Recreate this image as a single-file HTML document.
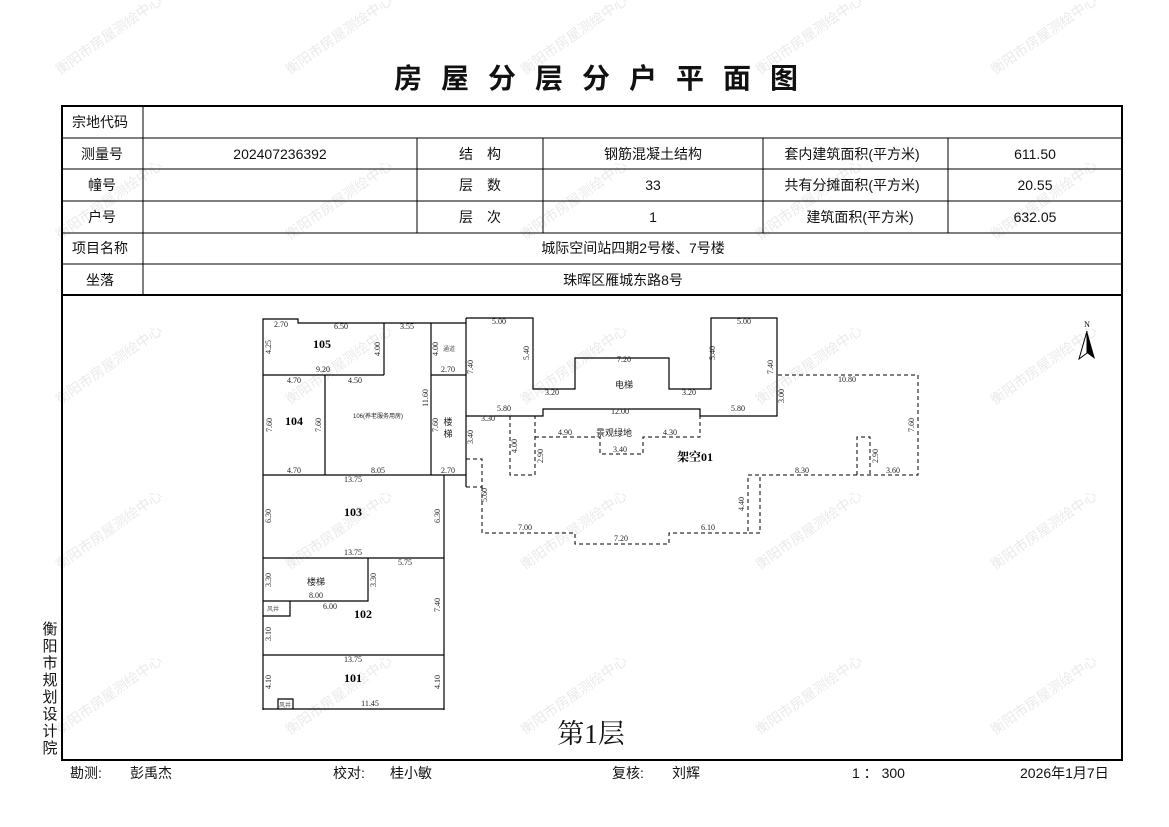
<!DOCTYPE html>
<html><head><meta charset="utf-8"><style>
html,body{margin:0;padding:0;background:#fff;}
svg{display:block}
.t{font-family:"Liberation Sans","Noto Sans CJK SC",sans-serif;font-size:14px;fill:#111;}
.d{font-family:"Liberation Serif","Noto Serif CJK SC",serif;font-size:8px;fill:#222;}
.r{font-family:"Liberation Serif","Noto Serif CJK SC",serif;font-size:12px;font-weight:bold;fill:#000;}
.s{font-family:"Liberation Sans","Noto Sans CJK SC",sans-serif;font-size:6px;fill:#555;}
.w{font-family:"Liberation Sans","Noto Sans CJK SC",sans-serif;font-size:14px;fill:#000;opacity:0.09;}
.ti{font-family:"Liberation Sans","Noto Sans CJK SC",sans-serif;font-size:28px;font-weight:bold;fill:#111;}
</style></head><body>
<svg width="1169" height="827" viewBox="0 0 1169 827" xmlns="http://www.w3.org/2000/svg">
<rect width="1169" height="827" fill="#fff"/>
<!-- title -->
<g class="ti" text-anchor="middle">
<text x="408" y="88">房</text><text x="455" y="88">屋</text><text x="502" y="88">分</text><text x="549" y="88">层</text><text x="596" y="88">分</text><text x="643" y="88">户</text><text x="690" y="88">平</text><text x="737" y="88">面</text><text x="784" y="88">图</text>
</g>
<!-- table -->
<g stroke="#000" fill="none">
<rect x="62" y="106" width="1060" height="654" stroke-width="2"/>
<line x1="62" y1="295" x2="1122" y2="295" stroke-width="2"/>
<g stroke-width="1">
<line x1="62" y1="138" x2="1122" y2="138"/>
<line x1="62" y1="169" x2="1122" y2="169"/>
<line x1="62" y1="201" x2="1122" y2="201"/>
<line x1="62" y1="233" x2="1122" y2="233"/>
<line x1="62" y1="264" x2="1122" y2="264"/>
<line x1="143" y1="106" x2="143" y2="295"/>
<line x1="417" y1="138" x2="417" y2="233"/>
<line x1="543" y1="138" x2="543" y2="233"/>
<line x1="763" y1="138" x2="763" y2="233"/>
<line x1="948" y1="138" x2="948" y2="233"/>
</g></g>
<g class="t" text-anchor="middle">
<text x="100" y="127">宗地代码</text>
<text x="102" y="159">测量号</text>
<text x="102" y="190">幢号</text>
<text x="102" y="222">户号</text>
<text x="100" y="253">项目名称</text>
<text x="100" y="285">坐落</text>
<text x="280" y="159">202407236392</text>
<text x="480" y="159">结　构</text>
<text x="480" y="190">层　数</text>
<text x="480" y="222">层　次</text>
<text x="653" y="159">钢筋混凝土结构</text>
<text x="653" y="190">33</text>
<text x="653" y="222">1</text>
<text x="852" y="159">套内建筑面积(平方米)</text>
<text x="852" y="190">共有分摊面积(平方米)</text>
<text x="860" y="222">建筑面积(平方米)</text>
<text x="1035" y="159">611.50</text>
<text x="1035" y="190">20.55</text>
<text x="1035" y="222">632.05</text>
<text x="633" y="253">城际空间站四期2号楼、7号楼</text>
<text x="623" y="285">珠晖区雁城东路8号</text>
</g>
<!-- floor plan solid -->
<g stroke="#000" stroke-width="1.2" fill="none">
<polyline points="263,710 263,319 298,319 298,323 466,323"/>
<line x1="263" y1="375" x2="384" y2="375"/>
<line x1="384" y1="323" x2="384" y2="375"/>
<line x1="431" y1="323" x2="431" y2="475"/>
<line x1="431" y1="375" x2="466" y2="375"/>
<line x1="325" y1="375" x2="325" y2="475"/>
<line x1="263" y1="475" x2="466" y2="475"/>
<line x1="444" y1="475" x2="444" y2="710"/>
<line x1="263" y1="558" x2="444" y2="558"/>
<polyline points="263,601 368,601 368,558"/>
<polyline points="263,616 290,616 290,601"/>
<line x1="263" y1="655" x2="444" y2="655"/>
<line x1="263" y1="709" x2="444" y2="709"/>
<polyline points="278,709 278,699 293,699 293,709"/>
<line x1="466" y1="318" x2="466" y2="487"/>
<polyline points="466,318 533,318 533,389 575,389 575,358 669,358 669,389 711,389 711,318 777,318 777,416 700,416 700,409 543,409 543,416 466,416"/>
</g>
<!-- dashed -->
<g stroke="#000" stroke-width="1" fill="none" stroke-dasharray="4,3">
<polyline points="466,459 482,459 482,487 466,487"/>
<polyline points="482,487 482,533 575,533 575,544 669,544 669,533 748,533 748,475 918,475 918,375 777,375"/>
<polyline points="748,475 760,475 760,533 748,533"/>
<polyline points="510,416 510,475 535,475 535,416"/>
<polyline points="535,437 600,437 600,454 643,454 643,437 700,437 700,416"/>
<polyline points="857,475 857,437 870,437 870,475"/>
</g>
<!-- room labels -->
<g class="r" text-anchor="middle">
<text x="322" y="348">105</text>
<text x="294" y="425">104</text>
<text x="353" y="516">103</text>
<text x="363" y="618">102</text>
<text x="353" y="682">101</text>
<text x="695" y="461">架空01</text>
</g>
<g font-family="Liberation Sans,'Noto Sans CJK SC',sans-serif" fill="#222" text-anchor="middle">
<text x="378" y="418" font-size="6">106(养老服务用房)</text>
<text x="624" y="388" font-size="9">电梯</text>
<text x="614" y="436" font-size="9">景观绿地</text>
<text x="316" y="585" font-size="9">楼梯</text>
<text x="448" y="425" font-size="9">楼</text>
<text x="448" y="437" font-size="9">梯</text>
<text x="449" y="351" class="s">通道</text>
<text x="273" y="611" class="s">风井</text>
<text x="285" y="707" class="s">风井</text>
</g>
<!-- dims horizontal -->
<g class="d" text-anchor="middle">
<text x="281" y="327">2.70</text><text x="341" y="329">6.50</text><text x="407" y="329">3.55</text>
<text x="323" y="372">9.20</text><text x="448" y="372">2.70</text>
<text x="294" y="383">4.70</text><text x="355" y="383">4.50</text>
<text x="294" y="473">4.70</text><text x="378" y="473">8.05</text><text x="448" y="473">2.70</text>
<text x="353" y="482">13.75</text><text x="353" y="555">13.75</text>
<text x="405" y="565">5.75</text><text x="316" y="598">8.00</text><text x="330" y="609">6.00</text>
<text x="353" y="662">13.75</text><text x="370" y="706">11.45</text>
<text x="499" y="324">5.00</text><text x="744" y="324">5.00</text>
<text x="624" y="362">7.20</text><text x="552" y="395">3.20</text><text x="689" y="395">3.20</text>
<text x="504" y="411">5.80</text><text x="738" y="411">5.80</text><text x="620" y="414">12.00</text>
<text x="488" y="421">3.30</text><text x="565" y="435">4.90</text><text x="670" y="435">4.30</text>
<text x="620" y="452">3.40</text><text x="847" y="382">10.80</text>
<text x="802" y="473">8.30</text><text x="893" y="473">3.60</text>
<text x="525" y="530">7.00</text><text x="708" y="530">6.10</text><text x="621" y="541">7.20</text>
</g>
<!-- dims vertical -->
<g class="d" text-anchor="middle">
<text transform="translate(271,347) rotate(-90)">4.25</text>
<text transform="translate(380,349) rotate(-90)">4.00</text>
<text transform="translate(438,349) rotate(-90)">4.00</text>
<text transform="translate(428,398) rotate(-90)">11.60</text>
<text transform="translate(272,425) rotate(-90)">7.60</text>
<text transform="translate(321,425) rotate(-90)">7.60</text>
<text transform="translate(438,425) rotate(-90)">7.60</text>
<text transform="translate(271,516) rotate(-90)">6.30</text>
<text transform="translate(440,516) rotate(-90)">6.30</text>
<text transform="translate(271,580) rotate(-90)">3.30</text>
<text transform="translate(376,580) rotate(-90)">3.30</text>
<text transform="translate(440,605) rotate(-90)">7.40</text>
<text transform="translate(271,634) rotate(-90)">3.10</text>
<text transform="translate(271,682) rotate(-90)">4.10</text>
<text transform="translate(440,682) rotate(-90)">4.10</text>
<text transform="translate(473,367) rotate(-90)">7.40</text>
<text transform="translate(529,353) rotate(-90)">5.40</text>
<text transform="translate(715,353) rotate(-90)">5.40</text>
<text transform="translate(773,367) rotate(-90)">7.40</text>
<text transform="translate(784,396) rotate(-90)">3.00</text>
<text transform="translate(473,437) rotate(-90)">3.40</text>
<text transform="translate(517,446) rotate(-90)">4.00</text>
<text transform="translate(543,456) rotate(-90)">2.90</text>
<text transform="translate(487,495) rotate(-90)">5.60</text>
<text transform="translate(914,425) rotate(-90)">7.60</text>
<text transform="translate(878,456) rotate(-90)">2.90</text>
<text transform="translate(744,504) rotate(-90)">4.40</text>
</g>
<!-- north arrow -->
<text x="1087" y="327" font-family="Liberation Serif,serif" font-size="8" text-anchor="middle">N</text>
<polygon points="1087,331 1079,359 1087,353" fill="none" stroke="#000" stroke-width="1"/>
<polygon points="1087,331 1095,359 1087,353" fill="#000"/>
<!-- floor label -->
<text x="591" y="743" font-family="Liberation Serif,'Noto Serif CJK SC',serif" font-size="27" text-anchor="middle" fill="#111">第1层</text>
<!-- left vertical -->
<g font-family="Liberation Sans,'Noto Sans CJK SC',sans-serif" font-size="15" fill="#111" text-anchor="middle">
<text x="50" y="634">衡</text><text x="50" y="651">阳</text><text x="50" y="668">市</text><text x="50" y="685">规</text><text x="50" y="702">划</text><text x="50" y="719">设</text><text x="50" y="736">计</text><text x="50" y="753">院</text>
</g>
<!-- footer -->
<g class="t" font-size="13">
<text x="70" y="778">勘测:</text><text x="130" y="778">彭禹杰</text>
<text x="333" y="778">校对:</text><text x="390" y="778">桂小敏</text>
<text x="612" y="778">复核:</text><text x="672" y="778">刘辉</text>
<text x="852" y="778">1 ： 300</text><text x="1020" y="778">2026年1月7日</text>
</g>
<!-- watermarks -->
<g class="w">
<text transform="translate(60,75) rotate(-35)">衡阳市房屋测绘中心</text>
<text transform="translate(290,75) rotate(-35)">衡阳市房屋测绘中心</text>
<text transform="translate(525,75) rotate(-35)">衡阳市房屋测绘中心</text>
<text transform="translate(760,75) rotate(-35)">衡阳市房屋测绘中心</text>
<text transform="translate(995,75) rotate(-35)">衡阳市房屋测绘中心</text>
<text transform="translate(60,240) rotate(-35)">衡阳市房屋测绘中心</text>
<text transform="translate(290,240) rotate(-35)">衡阳市房屋测绘中心</text>
<text transform="translate(525,240) rotate(-35)">衡阳市房屋测绘中心</text>
<text transform="translate(760,240) rotate(-35)">衡阳市房屋测绘中心</text>
<text transform="translate(995,240) rotate(-35)">衡阳市房屋测绘中心</text>
<text transform="translate(60,405) rotate(-35)">衡阳市房屋测绘中心</text>
<text transform="translate(290,405) rotate(-35)">衡阳市房屋测绘中心</text>
<text transform="translate(525,405) rotate(-35)">衡阳市房屋测绘中心</text>
<text transform="translate(760,405) rotate(-35)">衡阳市房屋测绘中心</text>
<text transform="translate(995,405) rotate(-35)">衡阳市房屋测绘中心</text>
<text transform="translate(60,570) rotate(-35)">衡阳市房屋测绘中心</text>
<text transform="translate(290,570) rotate(-35)">衡阳市房屋测绘中心</text>
<text transform="translate(525,570) rotate(-35)">衡阳市房屋测绘中心</text>
<text transform="translate(760,570) rotate(-35)">衡阳市房屋测绘中心</text>
<text transform="translate(995,570) rotate(-35)">衡阳市房屋测绘中心</text>
<text transform="translate(60,735) rotate(-35)">衡阳市房屋测绘中心</text>
<text transform="translate(290,735) rotate(-35)">衡阳市房屋测绘中心</text>
<text transform="translate(525,735) rotate(-35)">衡阳市房屋测绘中心</text>
<text transform="translate(760,735) rotate(-35)">衡阳市房屋测绘中心</text>
<text transform="translate(995,735) rotate(-35)">衡阳市房屋测绘中心</text>
</g>
</svg>
</body></html>
